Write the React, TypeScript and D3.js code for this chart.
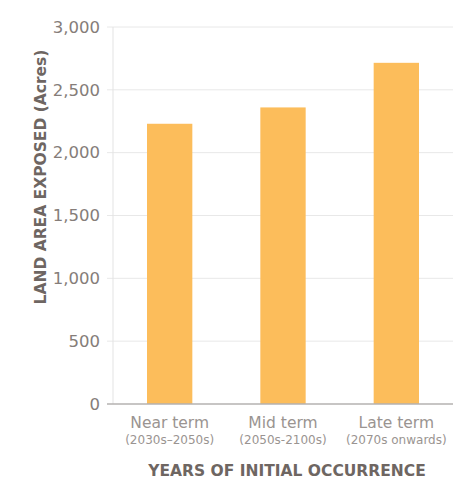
import React from "react";
import * as d3 from "d3";

const categories = ["Near term", "Mid term", "Late term"];
const subLabels = ["(2030s–2050s)", "(2050s-2100s)", "(2070s onwards)"];
const values = [2230, 2360, 2715];
const yTicks = [0, 500, 1000, 1500, 2000, 2500, 3000];

const W = 474;
const H = 487;
const margin = { left: 113, right: 21, top: 27, bottom: 83 };
const FONT = "'DejaVu Sans', sans-serif";

export default function App() {
  const x = d3
    .scaleBand<string>()
    .domain(categories)
    .range([margin.left, W - margin.right])
    .paddingInner(0.6)
    .paddingOuter(0.3);
  const y = d3.scaleLinear().domain([0, 3000]).range([H - margin.bottom, margin.top]);
  const fmt = d3.format(",");
  const y0 = y(0);

  return (
    <svg
      width={W}
      height={H}
      style={{ position: "absolute", left: 0, top: 0, background: "#fff" }}
      fontFamily={FONT}
    >
      {yTicks.map((t) => (
        <g key={t}>
          {t > 0 && (
            <line x1={margin.left - 6} x2={W - margin.right} y1={y(t)} y2={y(t)} stroke="#e8e8e8" strokeWidth={1} />
          )}
          <text x={100} y={y(t)} dy="0.35em" textAnchor="end" fontSize={16.5} fill="#857d79">
            {fmt(t)}
          </text>
        </g>
      ))}
      <line x1={margin.left} x2={margin.left} y1={margin.top} y2={y0} stroke="#e3e3e3" strokeWidth={1} />
      {categories.map((c, i) => (
        <rect key={c} x={x(c)} y={y(values[i])} width={x.bandwidth()} height={y0 - y(values[i])} fill="#FCBD5B" />
      ))}
      <line x1={margin.left - 6} x2={W - margin.right} y1={y0} y2={y0} stroke="#b5b2b0" strokeWidth={1.5} />
      {categories.map((c, i) => (
        <g key={c + "l"}>
          <text x={(x(c) as number) + x.bandwidth() / 2} y={428} textAnchor="middle" fontSize={15.5} fill="#9a9491">
            {c}
          </text>
          <text x={(x(c) as number) + x.bandwidth() / 2} y={444} textAnchor="middle" fontSize={12} fill="#9a9491">
            {subLabels[i]}
          </text>
        </g>
      ))}
      <text x={287} y={476} textAnchor="middle" fontSize={15.5} fontWeight="bold" fill="#6e6662">
        YEARS OF INITIAL OCCURRENCE
      </text>
      <text
        transform={`translate(46,177) rotate(-90)`}
        textAnchor="middle"
        fontSize={15.5}
        fontWeight="bold"
        fill="#6e6662"
      >
        LAND AREA EXPOSED (Acres)
      </text>
    </svg>
  );
}
